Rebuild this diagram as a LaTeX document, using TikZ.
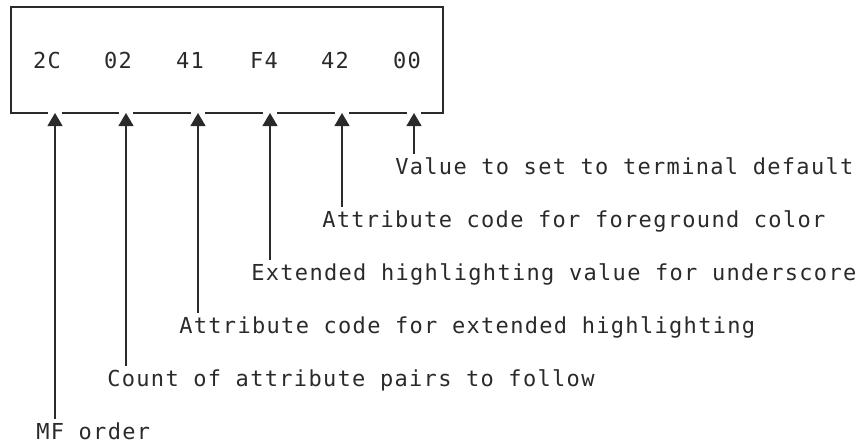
\documentclass[tikz,border=0pt]{standalone}
\usepackage{fontspec}
\newfontfamily\diagmono[LetterSpace=6]{DejaVu Sans Mono}
\usetikzlibrary{arrows.meta}
\definecolor{ink}{HTML}{2A2A2A}
\tikzset{
  lbl/.style={font=\diagmono\fontsize{16.5pt}{18pt}\selectfont, text=ink, inner xsep=0pt, inner ysep=2.25pt, text height=12.75pt, text depth=0pt},
  desc/.style={lbl, anchor=base west},
  byte/.style={lbl, anchor=base},
  frame/.style={draw=ink, line width=0.8pt},
  ptr/.style={draw=ink, line width=0.8pt, -{Triangle[width=11.25pt,length=9.75pt]}},
}
\begin{document}
\begin{tikzpicture}[x=0.75pt,y=-0.75pt]
\useasboundingbox (0,0) rectangle (856,443);
% box corners
\coordinate (bl) at (11,113);
\coordinate (br) at (443,113);
\coordinate (tl) at (11,7);
\coordinate (tr) at (443,7);
% arrow tips
\coordinate (t1) at (55,113);
\coordinate (t2) at (126,113);
\coordinate (t3) at (198,113);
\coordinate (t4) at (270,113);
\coordinate (t5) at (342,113);
\coordinate (t6) at (414,113);
% box (bottom edge broken around arrow heads)
\draw[frame] ([xshift=-5.6pt]t1) -- (bl) -- (tl) -- (tr) -- (br) -- ([xshift=5.6pt]t6);
\draw[frame] ([xshift=5.6pt]t1) -- ([xshift=-5.6pt]t2);
\draw[frame] ([xshift=5.6pt]t2) -- ([xshift=-5.6pt]t3);
\draw[frame] ([xshift=5.6pt]t3) -- ([xshift=-5.6pt]t4);
\draw[frame] ([xshift=5.6pt]t4) -- ([xshift=-5.6pt]t5);
\draw[frame] ([xshift=5.6pt]t5) -- ([xshift=-5.6pt]t6);
% bytes
\node[byte] (b1) at (47,68) {2C};
\node[byte] (b2) at (118,68) {02};
\node[byte] (b3) at (190,68) {41};
\node[byte] (b4) at (264,68) {F4};
\node[byte] (b5) at (335,68) {42};
\node[byte] (b6) at (407,68) {00};
% descriptions
\node[desc] (d1) at (36,439) {MF order};
\node[desc] (d2) at (107,386) {Count of attribute pairs to follow};
\node[desc] (d3) at (179,333) {Attribute code for extended highlighting};
\node[desc] (d4) at (251,280) {Extended highlighting value for underscore};
\node[desc] (d5) at (322,227) {Attribute code for foreground color};
\node[desc] (d6) at (395,174) {Value to set to terminal default};
% pointers
\draw[ptr] (d1.north -| t1) -- (t1);
\draw[ptr] (d2.north -| t2) -- (t2);
\draw[ptr] (d3.north -| t3) -- (t3);
\draw[ptr] (d4.north -| t4) -- (t4);
\draw[ptr] (d5.north -| t5) -- (t5);
\draw[ptr] (d6.north -| t6) -- (t6);
\end{tikzpicture}
\end{document}
